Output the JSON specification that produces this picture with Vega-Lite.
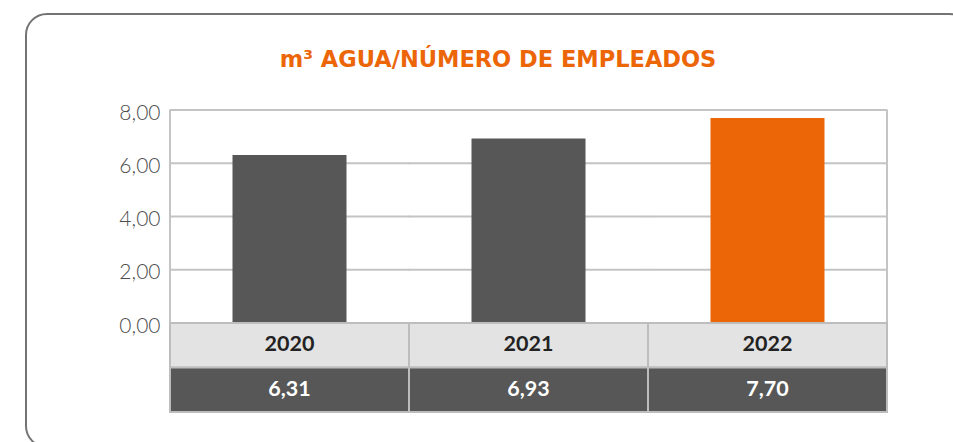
{
  "$schema": "https://vega.github.io/schema/vega-lite/v6.json",
  "width": 944,
  "height": 433,
  "autosize": {"type": "none"},
  "padding": {"left": 26, "top": 14, "right": -17, "bottom": -5},
  "background": "white",
  "config": {
    "view": {"stroke": "#737373", "strokeWidth": 2, "cornerRadius": 21},
    "font": "Lato",
    "locale": {"number": {"decimal": ",", "thousands": ".", "grouping": [3], "currency": ["", " €"]}}
  },
  "title": {
    "text": "m³ AGUA/NÚMERO DE EMPLEADOS",
    "color": "#EC6608",
    "fontSize": 22.5,
    "fontWeight": "bold",
    "font": "DejaVu Sans",
    "anchor": "middle",
    "frame": "group",
    "baseline": "alphabetic",
    "offset": -75
  },
  "datasets": {
    "main": [
      {"year": "2020", "value": 6.31},
      {"year": "2021", "value": 6.93},
      {"year": "2022", "value": 7.70}
    ],
    "grid": [
      {"year": "2020", "g": 2}, {"year": "2021", "g": 2}, {"year": "2022", "g": 2},
      {"year": "2020", "g": 4}, {"year": "2021", "g": 4}, {"year": "2022", "g": 4},
      {"year": "2020", "g": 6}, {"year": "2021", "g": 6}, {"year": "2022", "g": 6},
      {"year": "2020", "g": 8}, {"year": "2021", "g": 8}, {"year": "2022", "g": 8}
    ]
  },
  "layer": [
    {
      "layer": [
        {
          "data": {"name": "grid"},
          "mark": {"type": "tick", "size": 240, "thickness": 2, "color": "#c4c4c4", "opacity": 1},
          "encoding": {
            "x": {"field": "year", "type": "nominal", "scale": {"range": [144, 861], "paddingInner": 0, "paddingOuter": 0}, "axis": null},
            "y": {
              "field": "g", "type": "quantitative",
              "scale": {"domain": [0, 8], "range": [309, 96], "nice": false, "zero": false},
              "axis": {
                "orient": "left", "offset": -144, "values": [0, 2, 4, 6, 8],
                "domain": false, "ticks": false, "grid": false, "labelPadding": 10, "labelOffset": 3,
                "labelFontSize": 21, "labelColor": "#4d4d4d", "labelFont": "Lato", "labelFontWeight": 300,
                "format": ".2f", "title": null
              }
            }
          }
        },
        {
          "data": {"name": "main"},
          "mark": {"type": "rule", "color": "#c4c4c4", "strokeWidth": 2},
          "encoding": {
            "x": {"datum": "2020", "type": "nominal", "bandPosition": 0},
            "y": {"datum": 0, "type": "quantitative"},
            "y2": {"datum": 8}
          }
        },
        {
          "data": {"name": "main"},
          "mark": {"type": "rule", "color": "#c4c4c4", "strokeWidth": 2},
          "encoding": {
            "x": {"datum": "2022", "type": "nominal", "bandPosition": 1},
            "y": {"datum": 0, "type": "quantitative"},
            "y2": {"datum": 8}
          }
        },
        {
          "data": {"name": "main"},
          "mark": {"type": "bar", "width": {"band": 0.477}},
          "encoding": {
            "x": {"field": "year", "type": "nominal"},
            "y": {"field": "value", "type": "quantitative"},
            "color": {
              "field": "year", "type": "nominal",
              "scale": {"domain": ["2020", "2021", "2022"], "range": ["#575757", "#575757", "#EC6608"]},
              "legend": null
            }
          }
        }
      ]
    },
    {
      "data": {"name": "main"},
      "layer": [
        {
          "mark": {"type": "rect", "fill": "#E3E3E3", "stroke": "#BDBDBD", "strokeWidth": 2},
          "encoding": {
            "x": {"field": "year", "type": "nominal"},
            "y": {"datum": "r1", "type": "nominal", "scale": {"domain": ["r1", "r2"], "range": [309, 398], "paddingInner": 0, "paddingOuter": 0}, "axis": null}
          }
        },
        {
          "mark": {"type": "rect", "fill": "#575757", "stroke": "#BDBDBD", "strokeWidth": 2},
          "encoding": {
            "x": {"field": "year", "type": "nominal"},
            "y": {"datum": "r2", "type": "nominal"}
          }
        },
        {
          "mark": {"type": "text", "font": "Lato", "fontSize": 21.5, "fontWeight": "bold", "color": "#222222", "baseline": "middle"},
          "encoding": {
            "x": {"field": "year", "type": "nominal"},
            "y": {"datum": "r1", "type": "nominal"},
            "text": {"field": "year"}
          }
        },
        {
          "mark": {"type": "text", "font": "Lato", "fontSize": 21.5, "fontWeight": "bold", "color": "#ffffff", "baseline": "middle"},
          "encoding": {
            "x": {"field": "year", "type": "nominal"},
            "y": {"datum": "r2", "type": "nominal"},
            "text": {"field": "value", "type": "quantitative", "format": ".2f"}
          }
        }
      ]
    }
  ],
  "resolve": {"scale": {"y": "independent"}}
}
